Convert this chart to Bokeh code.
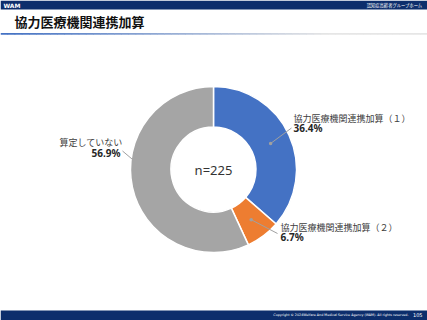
import math
from bokeh.plotting import figure
from bokeh.models import Range1d
from bokeh.core.properties import value
from bokeh.embed import file_html
from bokeh.resources import INLINE

# ---- data ----
categories = ["協力医療機関連携加算（１）", "協力医療機関連携加算（２）", "算定していない"]
shares = [36.4, 6.7, 56.9]
colors = ["#4472C4", "#ED7D31", "#A5A5A5"]
n_total = 225
title = "協力医療機関連携加算"
header_left = "WAM"
header_right = "認知症高齢者グループホーム"
footer_text = "Copyright © 2024Welfare And Medical Service Agency (WAM). All rights reserved."
page_no = "105"

W, H = 427, 320
JP = "Noto Sans CJK JP"


def Y(img_y):
    return H - img_y


p = figure(width=W, height=H, output_backend="svg", toolbar_location=None,
           x_range=Range1d(0, W), y_range=Range1d(0, H),
           x_axis_type=None, y_axis_type=None, min_border=0)
p.outline_line_color = None
p.grid.visible = False
p.background_fill_color = "white"
p.border_fill_color = "white"

# header bar
p.quad(left=0, right=W, bottom=Y(9), top=H, fill_color="#0D2E6C", line_color=None)
p.text(x=[3], y=[Y(4.7)], text=[header_left], text_color="white", text_font=value("DejaVu Sans"),
       text_font_style="bold", text_font_size="6px", text_baseline="middle")
p.text(x=[422], y=[Y(4.7)], text=[header_right], text_color="white", text_font=value(JP),
       text_font_size="4.3px", text_baseline="middle", text_align="right")

# title
p.text(x=[14], y=[Y(21)], text=[title], text_color="#111111", text_font=value(JP),
       text_font_style="bold", text_font_size="13px", text_baseline="middle")

# separator gradient line
nseg = 60
c0 = (0x44, 0x72, 0xC4)
c1 = (0xE6, 0xE6, 0xE6)
xs0, xs1, cols = [], [], []
for i in range(nseg):
    t = i / (nseg - 1)
    tt = min(1.0, t * 1.3)
    c = tuple(int(c0[k] + (c1[k] - c0[k]) * tt) for k in range(3))
    xs0.append(W * i / nseg)
    xs1.append(W * (i + 1) / nseg + 0.5)
    cols.append("#%02x%02x%02x" % c)
p.segment(x0=xs0, y0=[Y(33.3)] * nseg, x1=xs1, y1=[Y(33.3)] * nseg, line_color=cols, line_width=1.8)

# footer bar
p.quad(left=0, right=W, bottom=0, top=Y(310), fill_color="#0D2E6C", line_color=None)
p.text(x=[408], y=[Y(314.5)], text=[footer_text], text_color="white", text_font=value("DejaVu Sans"),
       text_font_size="3.3px", text_baseline="middle", text_align="right")
p.text(x=[422], y=[Y(314.5)], text=[page_no], text_color="white", text_font=value("DejaVu Sans"),
       text_font_size="5px", text_baseline="middle", text_align="right")

# donut
cx, cy = 213, Y(169)
r_in, r_out = 42.5, 83
total = sum(shares)
starts, ends, mids = [], [], []
acc = 0.0
for v in shares:
    a0 = math.pi / 2 - acc / total * 2 * math.pi
    acc += v
    a1 = math.pi / 2 - acc / total * 2 * math.pi
    starts.append(a0)
    ends.append(a1)
    mids.append((a0 + a1) / 2)

p.annular_wedge(x=[cx] * 3, y=[cy] * 3, inner_radius=r_in, outer_radius=r_out,
                start_angle=starts, end_angle=ends, direction="clock",
                fill_color=colors, line_color="white", line_width=1.5)

p.text(x=[cx], y=[cy], text=["n=%d" % n_total], text_color="#333333", text_font=value("Noto Sans"),
       text_font_size="13px", text_baseline="middle", text_align="center")

# leader lines
r_mid = (r_in + r_out) / 2
dots_x = [cx + r_mid * math.cos(mids[i]) for i in (0, 1)]
dots_y = [cy + r_mid * math.sin(mids[i]) for i in (0, 1)]
ends_x = [291, 277]
ends_y = [Y(127.5), Y(233)]
p.segment(x0=dots_x, y0=dots_y, x1=ends_x, y1=ends_y, line_color="#A0A0A0", line_width=1)
p.scatter(x=dots_x, y=dots_y, size=3.5, fill_color="#A0A0A0", line_color=None)
p.segment(x0=[122], y0=[Y(150.5)], x1=[131.5], y1=[Y(158.5)], line_color="#A0A0A0", line_width=1)

# labels
lab_x = [293, 280, 122]
lab_y1 = [117.5, 227, 142]
lab_y2 = [127, 236, 152]
aligns = ["left", "left", "right"]
for i in range(3):
    p.text(x=[lab_x[i]], y=[Y(lab_y1[i])], text=[categories[i]], text_color="#404040",
           text_font=value(JP), text_font_size="9px", text_baseline="middle", text_align=aligns[i])
    p.text(x=[lab_x[i] if i < 2 else 120], y=[Y(lab_y2[i])], text=["%.1f%%" % shares[i]],
           text_color="#262626", text_font=value("Noto Sans"), text_font_style="bold",
           text_font_size="10px", text_baseline="middle", text_align=aligns[i])

open("out.html", "w").write(file_html(p, INLINE))
